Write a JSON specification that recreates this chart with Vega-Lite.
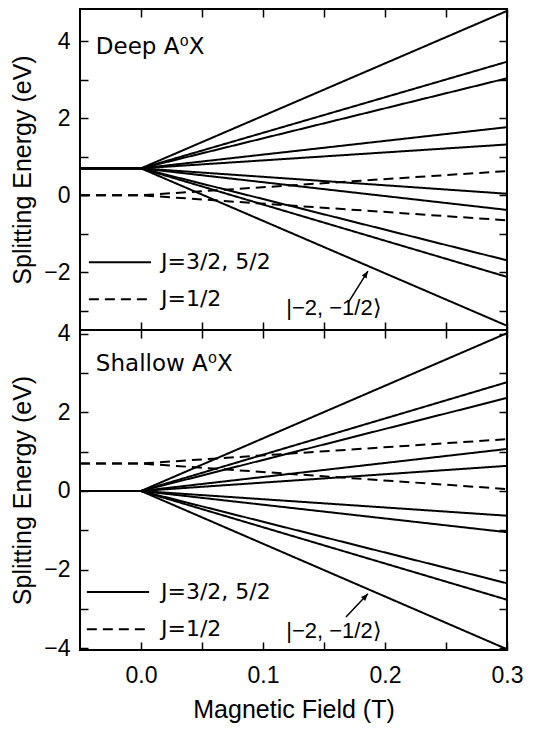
{
  "$schema": "https://vega.github.io/schema/vega-lite/v6.json",
  "padding": {"left": 9, "top": 5, "right": 5, "bottom": 5},
  "spacing": 0,
  "bounds": "flush",
  "background": "white",
  "config": {
    "font": "Liberation Sans",
    "view": {"stroke": "black", "strokeWidth": 2},
    "axis": {
      "domain": false, "grid": false, "tickColor": "black", "tickWidth": 1.5, "tickSize": -8,
      "labelColor": "black", "labelFont": "Liberation Sans", "labelFontSize": 23, "labelPadding": 18,
      "labelOverlap": false, "labelFlush": false,
      "titleColor": "black", "titleFont": "Liberation Sans", "titleFontSize": 25, "titleFontWeight": "normal"
    },
    "text": {"color": "black", "font": "Liberation Sans"}
  },
  "datasets": {
    "lines": [
      {"p":"Deep","id":"d1","J":"J=3/2, 5/2","x":-0.05,"y":0.7},{"p":"Deep","id":"d1","J":"J=3/2, 5/2","x":0,"y":0.7},{"p":"Deep","id":"d1","J":"J=3/2, 5/2","x":0.3,"y":4.79},
      {"p":"Deep","id":"d2","J":"J=3/2, 5/2","x":-0.05,"y":0.7},{"p":"Deep","id":"d2","J":"J=3/2, 5/2","x":0,"y":0.7},{"p":"Deep","id":"d2","J":"J=3/2, 5/2","x":0.3,"y":3.47},
      {"p":"Deep","id":"d3","J":"J=3/2, 5/2","x":-0.05,"y":0.7},{"p":"Deep","id":"d3","J":"J=3/2, 5/2","x":0,"y":0.7},{"p":"Deep","id":"d3","J":"J=3/2, 5/2","x":0.3,"y":3.04},
      {"p":"Deep","id":"d4","J":"J=3/2, 5/2","x":-0.05,"y":0.7},{"p":"Deep","id":"d4","J":"J=3/2, 5/2","x":0,"y":0.7},{"p":"Deep","id":"d4","J":"J=3/2, 5/2","x":0.3,"y":1.77},
      {"p":"Deep","id":"d5","J":"J=3/2, 5/2","x":-0.05,"y":0.7},{"p":"Deep","id":"d5","J":"J=3/2, 5/2","x":0,"y":0.7},{"p":"Deep","id":"d5","J":"J=3/2, 5/2","x":0.3,"y":1.32},
      {"p":"Deep","id":"d6","J":"J=3/2, 5/2","x":-0.05,"y":0.7},{"p":"Deep","id":"d6","J":"J=3/2, 5/2","x":0,"y":0.7},{"p":"Deep","id":"d6","J":"J=3/2, 5/2","x":0.3,"y":0.04},
      {"p":"Deep","id":"d7","J":"J=3/2, 5/2","x":-0.05,"y":0.7},{"p":"Deep","id":"d7","J":"J=3/2, 5/2","x":0,"y":0.7},{"p":"Deep","id":"d7","J":"J=3/2, 5/2","x":0.3,"y":-0.38},
      {"p":"Deep","id":"d8","J":"J=3/2, 5/2","x":-0.05,"y":0.7},{"p":"Deep","id":"d8","J":"J=3/2, 5/2","x":0,"y":0.7},{"p":"Deep","id":"d8","J":"J=3/2, 5/2","x":0.3,"y":-1.69},
      {"p":"Deep","id":"d9","J":"J=3/2, 5/2","x":-0.05,"y":0.7},{"p":"Deep","id":"d9","J":"J=3/2, 5/2","x":0,"y":0.7},{"p":"Deep","id":"d9","J":"J=3/2, 5/2","x":0.3,"y":-2.12},
      {"p":"Deep","id":"d10","J":"J=3/2, 5/2","x":-0.05,"y":0.7},{"p":"Deep","id":"d10","J":"J=3/2, 5/2","x":0,"y":0.7},{"p":"Deep","id":"d10","J":"J=3/2, 5/2","x":0.3,"y":-3.39},
      {"p":"Deep","id":"e1","J":"J=1/2","x":-0.05,"y":0},{"p":"Deep","id":"e1","J":"J=1/2","x":0,"y":0},{"p":"Deep","id":"e1","J":"J=1/2","x":0.3,"y":0.63},
      {"p":"Deep","id":"e2","J":"J=1/2","x":-0.05,"y":0},{"p":"Deep","id":"e2","J":"J=1/2","x":0,"y":0},{"p":"Deep","id":"e2","J":"J=1/2","x":0.3,"y":-0.65},
      {"p":"Shallow","id":"s1","J":"J=3/2, 5/2","x":-0.05,"y":0},{"p":"Shallow","id":"s1","J":"J=3/2, 5/2","x":0,"y":0},{"p":"Shallow","id":"s1","J":"J=3/2, 5/2","x":0.3,"y":4.02},
      {"p":"Shallow","id":"s2","J":"J=3/2, 5/2","x":-0.05,"y":0},{"p":"Shallow","id":"s2","J":"J=3/2, 5/2","x":0,"y":0},{"p":"Shallow","id":"s2","J":"J=3/2, 5/2","x":0.3,"y":2.77},
      {"p":"Shallow","id":"s3","J":"J=3/2, 5/2","x":-0.05,"y":0},{"p":"Shallow","id":"s3","J":"J=3/2, 5/2","x":0,"y":0},{"p":"Shallow","id":"s3","J":"J=3/2, 5/2","x":0.3,"y":2.37},
      {"p":"Shallow","id":"s4","J":"J=3/2, 5/2","x":-0.05,"y":0},{"p":"Shallow","id":"s4","J":"J=3/2, 5/2","x":0,"y":0},{"p":"Shallow","id":"s4","J":"J=3/2, 5/2","x":0.3,"y":1.07},
      {"p":"Shallow","id":"s5","J":"J=3/2, 5/2","x":-0.05,"y":0},{"p":"Shallow","id":"s5","J":"J=3/2, 5/2","x":0,"y":0},{"p":"Shallow","id":"s5","J":"J=3/2, 5/2","x":0.3,"y":0.64},
      {"p":"Shallow","id":"s6","J":"J=3/2, 5/2","x":-0.05,"y":0},{"p":"Shallow","id":"s6","J":"J=3/2, 5/2","x":0,"y":0},{"p":"Shallow","id":"s6","J":"J=3/2, 5/2","x":0.3,"y":-0.63},
      {"p":"Shallow","id":"s7","J":"J=3/2, 5/2","x":-0.05,"y":0},{"p":"Shallow","id":"s7","J":"J=3/2, 5/2","x":0,"y":0},{"p":"Shallow","id":"s7","J":"J=3/2, 5/2","x":0.3,"y":-1.05},
      {"p":"Shallow","id":"s8","J":"J=3/2, 5/2","x":-0.05,"y":0},{"p":"Shallow","id":"s8","J":"J=3/2, 5/2","x":0,"y":0},{"p":"Shallow","id":"s8","J":"J=3/2, 5/2","x":0.3,"y":-2.35},
      {"p":"Shallow","id":"s9","J":"J=3/2, 5/2","x":-0.05,"y":0},{"p":"Shallow","id":"s9","J":"J=3/2, 5/2","x":0,"y":0},{"p":"Shallow","id":"s9","J":"J=3/2, 5/2","x":0.3,"y":-2.77},
      {"p":"Shallow","id":"s10","J":"J=3/2, 5/2","x":-0.05,"y":0},{"p":"Shallow","id":"s10","J":"J=3/2, 5/2","x":0,"y":0},{"p":"Shallow","id":"s10","J":"J=3/2, 5/2","x":0.3,"y":-4.03},
      {"p":"Shallow","id":"t1","J":"J=1/2","x":-0.05,"y":0.7},{"p":"Shallow","id":"t1","J":"J=1/2","x":0,"y":0.7},{"p":"Shallow","id":"t1","J":"J=1/2","x":0.3,"y":1.32},
      {"p":"Shallow","id":"t2","J":"J=1/2","x":-0.05,"y":0.7},{"p":"Shallow","id":"t2","J":"J=1/2","x":0,"y":0.7},{"p":"Shallow","id":"t2","J":"J=1/2","x":0.3,"y":0.05}
    ],
    "notes": [
      {"p":"Deep","k":"title","label":"Deep A⁰X","x":-0.037,"y":3.84},
      {"p":"Shallow","k":"title","label":"Shallow A⁰X","x":-0.037,"y":3.24},
      {"p":"Deep","k":"ket","label":"|−2, −1/2⟩","x":0.119,"y":-2.94},
      {"p":"Shallow","k":"ket","label":"|−2, −1/2⟩","x":0.119,"y":-3.57},
      {"p":"Deep","k":"arrow","label":"","x":0.170,"y":-2.78,"x2":0.186,"y2":-1.97},
      {"p":"Shallow","k":"arrow","label":"","x":0.168,"y":-3.21,"x2":0.186,"y2":-2.62}
    ],
    "legend": [
      {"p":"Deep","J":"J=3/2, 5/2","x":-0.0427,"x2":0.0082,"tx":0.0164,"y":-1.74},
      {"p":"Deep","J":"J=1/2","x":-0.0427,"x2":0.0082,"tx":0.0164,"y":-2.70},
      {"p":"Shallow","J":"J=3/2, 5/2","x":-0.0444,"x2":0.0066,"tx":0.0164,"y":-2.57},
      {"p":"Shallow","J":"J=1/2","x":-0.0444,"x2":0.0066,"tx":0.0164,"y":-3.52}
    ]
  },
  "vconcat": [
    {
      "width": 427, "height": 321,
      "resolve": {"axis": {"x": "independent", "y": "independent"}},
      "layer": [
        {
          "data": {"name": "lines"},
          "transform": [{"filter": "datum.p === 'Deep'"}],
          "mark": {"type": "line", "color": "black", "strokeWidth": 2},
          "encoding": {
            "x": {"field": "x", "type": "quantitative", "scale": {"domain": [-0.05, 0.3], "nice": false, "zero": false},
                  "axis": {"orient": "bottom", "values": [0, 0.05, 0.1, 0.15, 0.2, 0.25, 0.3], "labels": false, "title": null}},
            "y": {"field": "y", "type": "quantitative", "scale": {"domain": [-3.5, 4.84], "nice": false, "zero": false},
                  "axis": {"orient": "left", "values": [-3, -2, -1, 0, 1, 2, 3, 4], "labelExpr": "datum.value % 2 === 0 ? datum.label : ''", "title": "Splitting Energy (eV)", "titlePadding": 8}},
            "detail": {"field": "id"},
            "strokeDash": {"field": "J", "type": "nominal", "scale": {"domain": ["J=3/2, 5/2", "J=1/2"], "range": [[1, 0], [10, 6]]}, "legend": null}
          }
        },
        {
          "data": {"name": "notes"},
          "transform": [{"filter": "datum.p === 'Deep' && datum.k === 'title'"}],
          "mark": {"type": "text", "align": "left", "baseline": "middle", "fontSize": 23, "font": "DejaVu Sans"},
          "encoding": {
            "x": {"field": "x", "type": "quantitative", "axis": {"orient": "top", "values": [0, 0.05, 0.1, 0.15, 0.2, 0.25, 0.3], "labels": false, "title": null}},
            "y": {"field": "y", "type": "quantitative", "axis": {"orient": "right", "values": [-3, -2, -1, 0, 1, 2, 3, 4], "labels": false, "title": null}},
            "text": {"field": "label"}
          }
        },
        {
          "data": {"name": "notes"},
          "transform": [{"filter": "datum.p === 'Deep' && datum.k === 'ket'"}],
          "mark": {"type": "text", "align": "left", "baseline": "middle", "fontSize": 22},
          "encoding": {
            "x": {"field": "x", "type": "quantitative", "axis": null},
            "y": {"field": "y", "type": "quantitative", "axis": null},
            "text": {"field": "label"}
          }
        },
        {
          "data": {"name": "notes"},
          "transform": [{"filter": "datum.p === 'Deep' && datum.k === 'arrow'"}],
          "mark": {"type": "rule", "color": "black", "strokeWidth": 1.5},
          "encoding": {
            "x": {"field": "x", "type": "quantitative", "axis": null},
            "y": {"field": "y", "type": "quantitative", "axis": null},
            "x2": {"field": "x2"}, "y2": {"field": "y2"}
          }
        },
        {
          "data": {"name": "notes"},
          "transform": [{"filter": "datum.p === 'Deep' && datum.k === 'arrow'"}],
          "mark": {"type": "point", "shape": "M0,0 L-0.4,1 L0.4,1 Z", "filled": true, "color": "black", "opacity": 1, "size": 200, "angle": 32},
          "encoding": {
            "x": {"field": "x2", "type": "quantitative", "axis": null},
            "y": {"field": "y2", "type": "quantitative", "axis": null}
          }
        },
        {
          "data": {"name": "legend"},
          "transform": [{"filter": "datum.p === 'Deep'"}],
          "mark": {"type": "rule", "color": "black", "strokeWidth": 2},
          "encoding": {
            "x": {"field": "x", "type": "quantitative", "axis": null},
            "x2": {"field": "x2"},
            "y": {"field": "y", "type": "quantitative", "axis": null},
            "strokeDash": {"field": "J", "type": "nominal", "legend": null}
          }
        },
        {
          "data": {"name": "legend"},
          "transform": [{"filter": "datum.p === 'Deep'"}],
          "mark": {"type": "text", "align": "left", "baseline": "middle", "fontSize": 22, "font": "DejaVu Sans"},
          "encoding": {
            "x": {"field": "tx", "type": "quantitative", "axis": null},
            "y": {"field": "y", "type": "quantitative", "axis": null},
            "text": {"field": "J"}
          }
        }
      ]
    },
    {
      "width": 427, "height": 320,
      "resolve": {"axis": {"x": "independent", "y": "independent"}},
      "layer": [
        {
          "data": {"name": "lines"},
          "transform": [{"filter": "datum.p === 'Shallow'"}],
          "mark": {"type": "line", "color": "black", "strokeWidth": 2},
          "encoding": {
            "x": {"field": "x", "type": "quantitative", "scale": {"domain": [-0.05, 0.3], "nice": false, "zero": false},
                  "axis": {"orient": "bottom", "values": [0, 0.05, 0.1, 0.15, 0.2, 0.25, 0.3], "labelExpr": "round(datum.value * 100) % 10 === 0 ? format(datum.value, '.1f') : ''", "labelPadding": 22, "title": "Magnetic Field (T)", "titlePadding": 10}},
            "y": {"field": "y", "type": "quantitative", "scale": {"domain": [-4.05, 4.1], "nice": false, "zero": false},
                  "axis": {"orient": "left", "values": [-4, -3, -2, -1, 0, 1, 2, 3, 4], "labelExpr": "datum.value % 2 === 0 ? datum.label : ''", "title": "Splitting Energy (eV)", "titlePadding": 8}},
            "detail": {"field": "id"},
            "strokeDash": {"field": "J", "type": "nominal", "scale": {"domain": ["J=3/2, 5/2", "J=1/2"], "range": [[1, 0], [10, 6]]}, "legend": null}
          }
        },
        {
          "data": {"name": "notes"},
          "transform": [{"filter": "datum.p === 'Shallow' && datum.k === 'title'"}],
          "mark": {"type": "text", "align": "left", "baseline": "middle", "fontSize": 23, "font": "DejaVu Sans"},
          "encoding": {
            "x": {"field": "x", "type": "quantitative", "axis": {"orient": "top", "values": [0, 0.05, 0.1, 0.15, 0.2, 0.25, 0.3], "labels": false, "title": null}},
            "y": {"field": "y", "type": "quantitative", "axis": {"orient": "right", "values": [-4, -3, -2, -1, 0, 1, 2, 3, 4], "labels": false, "title": null}},
            "text": {"field": "label"}
          }
        },
        {
          "data": {"name": "notes"},
          "transform": [{"filter": "datum.p === 'Shallow' && datum.k === 'ket'"}],
          "mark": {"type": "text", "align": "left", "baseline": "middle", "fontSize": 22},
          "encoding": {
            "x": {"field": "x", "type": "quantitative", "axis": null},
            "y": {"field": "y", "type": "quantitative", "axis": null},
            "text": {"field": "label"}
          }
        },
        {
          "data": {"name": "notes"},
          "transform": [{"filter": "datum.p === 'Shallow' && datum.k === 'arrow'"}],
          "mark": {"type": "rule", "color": "black", "strokeWidth": 1.5},
          "encoding": {
            "x": {"field": "x", "type": "quantitative", "axis": null},
            "y": {"field": "y", "type": "quantitative", "axis": null},
            "x2": {"field": "x2"}, "y2": {"field": "y2"}
          }
        },
        {
          "data": {"name": "notes"},
          "transform": [{"filter": "datum.p === 'Shallow' && datum.k === 'arrow'"}],
          "mark": {"type": "point", "shape": "M0,0 L-0.4,1 L0.4,1 Z", "filled": true, "color": "black", "opacity": 1, "size": 200, "angle": 43},
          "encoding": {
            "x": {"field": "x2", "type": "quantitative", "axis": null},
            "y": {"field": "y2", "type": "quantitative", "axis": null}
          }
        },
        {
          "data": {"name": "legend"},
          "transform": [{"filter": "datum.p === 'Shallow'"}],
          "mark": {"type": "rule", "color": "black", "strokeWidth": 2},
          "encoding": {
            "x": {"field": "x", "type": "quantitative", "axis": null},
            "x2": {"field": "x2"},
            "y": {"field": "y", "type": "quantitative", "axis": null},
            "strokeDash": {"field": "J", "type": "nominal", "legend": null}
          }
        },
        {
          "data": {"name": "legend"},
          "transform": [{"filter": "datum.p === 'Shallow'"}],
          "mark": {"type": "text", "align": "left", "baseline": "middle", "fontSize": 22, "font": "DejaVu Sans"},
          "encoding": {
            "x": {"field": "tx", "type": "quantitative", "axis": null},
            "y": {"field": "y", "type": "quantitative", "axis": null},
            "text": {"field": "J"}
          }
        }
      ]
    }
  ]
}
